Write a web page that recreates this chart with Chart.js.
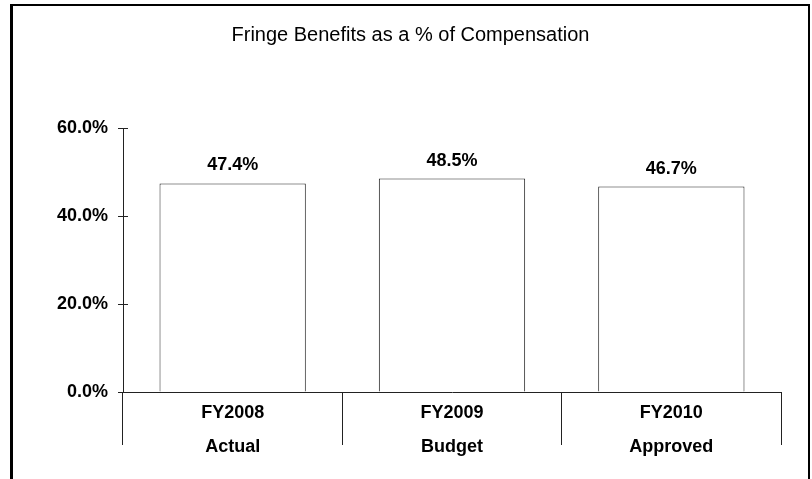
<!DOCTYPE html>
<html>
<head>
<meta charset="utf-8">
<script src="https://cdn.jsdelivr.net/npm/chart.js@4/dist/chart.umd.min.js"></script>
<style>
  html, body { margin: 0; padding: 0; background: #fff; overflow: hidden; }
  #frame { position: absolute; left: 10px; top: 4px; width: 795px; height: 520px; border: 2px solid #000; border-left-width: 3px; }
  #wrap { position: absolute; left: 0; top: 0; width: 812px; height: 479px; }
</style>
</head>
<body>
<div id="frame"></div>
<div id="wrap"><canvas id="fringeChart" width="812" height="479"></canvas></div>
<script>
// chart data
var years = ['FY2008', 'FY2009', 'FY2010'];
var stages = ['Actual', 'Budget', 'Approved'];
var fringePct = [47.4, 48.5, 46.7];
var yTicks = [0, 20, 40, 60];

document.addEventListener("DOMContentLoaded", function() {
    var ctx = document.getElementById('fringeChart').getContext('2d');

    // draw the value above each bar, and the inner half of the y tick marks
    var valueLabels = {
        id: 'valueLabels',
        afterDatasetsDraw: function(chart) {
            var c = chart.ctx;
            var meta = chart.getDatasetMeta(0);
            var yScale = chart.scales.y;
            c.save();
            c.strokeStyle = '#222';
            c.lineWidth = 1;
            yTicks.forEach(function(v) {
                var py = Math.round(yScale.getPixelForValue(v)) + 0.5;
                c.beginPath();
                c.moveTo(yScale.right, py);
                c.lineTo(yScale.right + 5, py);
                c.stroke();
            });
            c.font = 'bold 18px "Liberation Sans", Arial, sans-serif';
            c.fillStyle = '#000';
            c.textAlign = 'center';
            c.textBaseline = 'alphabetic';
            meta.data.forEach(function(bar, i) {
                c.fillText(fringePct[i].toFixed(1) + '%', bar.x, bar.y - 13);
            });
            c.restore();
        }
    };

    new Chart(ctx, {
        type: 'bar',
        data: {
            labels: years.map(function(y, i) { return [y, stages[i]]; }),
            datasets: [{
                label: 'Fringe Benefits',
                data: fringePct,
                backgroundColor: '#fff',
                borderColor: '#222',
                borderWidth: 1,
                barPercentage: 0.667,
                categoryPercentage: 1
            }]
        },
        options: {
            responsive: false,
            animation: false,
            devicePixelRatio: 1,
            layout: { padding: { left: 40, right: 31, top: 0, bottom: 0 } },
            plugins: {
                legend: { display: false },
                tooltip: { enabled: false },
                title: {
                    display: true,
                    text: 'Fringe Benefits as a % of Compensation',
                    color: '#000',
                    font: { family: '"Liberation Sans", Arial, sans-serif', size: 20, weight: 'normal' },
                    padding: { top: 23, bottom: 81 }
                }
            },
            scales: {
                x: {
                    grid: { display: true, drawOnChartArea: false, drawTicks: true, tickLength: 53, color: '#222', lineWidth: 1, offset: true },
                    border: { display: true, color: '#222', width: 1 },
                    ticks: {
                        color: '#000',
                        padding: -49,
                        font: { family: '"Liberation Sans", Arial, sans-serif', size: 18, weight: 'bold', lineHeight: 1.9 }
                    },
                    afterFit: function(s) { s.height = 87; }
                },
                y: {
                    min: 0,
                    max: 60,
                    afterBuildTicks: function(s) { s.ticks = yTicks.map(function(v) { return { value: v }; }); },
                    grid: { display: true, drawOnChartArea: false, drawTicks: true, tickLength: 5, color: '#222', lineWidth: 1 },
                    border: { display: true, color: '#222', width: 1 },
                    ticks: {
                        color: '#000',
                        padding: 10,
                        font: { family: '"Liberation Sans", Arial, sans-serif', size: 18, weight: 'bold' },
                        callback: function(v) { return v.toFixed(1) + '%'; }
                    },
                    afterFit: function(s) { s.width = 83; }
                }
            }
        },
        plugins: [valueLabels]
    });
});
</script>
</body>
</html>
